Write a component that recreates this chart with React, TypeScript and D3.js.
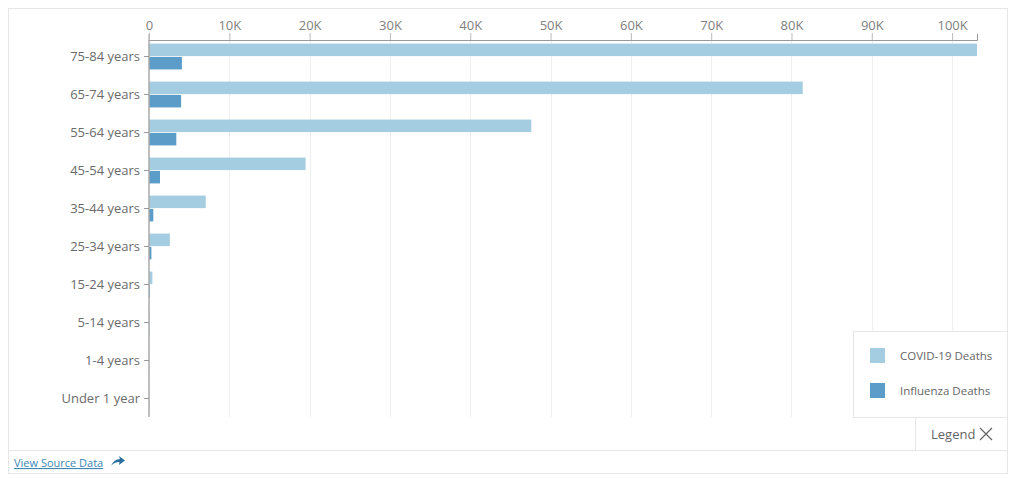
import React, { useEffect, useRef } from 'react';
import * as d3 from 'd3';

const ageGroups = [
  '75-84 years', '65-74 years', '55-64 years', '45-54 years', '35-44 years',
  '25-34 years', '15-24 years', '5-14 years', '1-4 years', 'Under 1 year',
];
const covidDeaths = [103100, 81400, 47600, 19500, 7060, 2600, 420, 50, 30, 30];
const fluDeaths = [4100, 4000, 3400, 1370, 540, 300, 110, 40, 20, 20];
const seriesNames = ['COVID-19 Deaths', 'Influenza Deaths'];
const seriesColors = ['#a5cde1', '#5b9cc9'];
const xTicks = [0, 10000, 20000, 30000, 40000, 50000, 60000, 70000, 80000, 90000, 100000];

const App = () => {
  const svgRef = useRef<SVGSVGElement>(null);

  useEffect(() => {
    const svg = d3.select(svgRef.current);
    svg.selectAll('*').remove();

    const font = '"Open Sans", sans-serif';
    const left = 149, right = 977, top = 40, bottom = 417;

    // frame
    svg.append('rect').attr('x', 8.5).attr('y', 8.5).attr('width', 999).attr('height', 465)
      .attr('fill', '#fff').attr('stroke', '#e6e6e6');
    svg.append('line').attr('x1', 8).attr('x2', 1008).attr('y1', 450.5).attr('y2', 450.5)
      .attr('stroke', '#e6e6e6');

    const x = d3.scaleLinear().domain([0, d3.max(covidDeaths) as number]).range([left, right]);
    const y = d3.scaleBand().domain(ageGroups).range([37.5, 417.5]).paddingInner(0.32).paddingOuter(0.16);
    const inner = d3.scaleBand().domain(seriesNames).range([0, y.bandwidth()]).paddingInner(0.06);

    // gridlines
    svg.append('g').selectAll('line').data(xTicks.slice(1)).join('line')
      .attr('x1', d => Math.round(x(d)) + 0.5).attr('x2', d => Math.round(x(d)) + 0.5)
      .attr('y1', top).attr('y2', bottom)
      .attr('stroke', '#efefef');

    // bars
    const rows = ageGroups.map((g, i) => ({ g, vals: [covidDeaths[i], fluDeaths[i]] }));
    const groups = svg.append('g').selectAll('g').data(rows).join('g')
      .attr('transform', d => `translate(0,${y(d.g)})`);
    groups.selectAll('rect').data(d => d.vals.map((v, j) => ({ v, j }))).join('rect')
      .attr('x', x(0))
      .attr('y', d => inner(seriesNames[d.j]) as number)
      .attr('width', d => x(d.v) - x(0))
      .attr('height', inner.bandwidth())
      .attr('fill', d => seriesColors[d.j]);

    // top axis
    const xAxis = svg.append('g').attr('transform', `translate(0,${top})`)
      .call(d3.axisTop(x).tickValues(xTicks).tickSize(7).tickPadding(3)
        .tickFormat(d => (+d === 0 ? '0' : `${+d / 1000}K`)));
    xAxis.select('.domain').attr('stroke', '#999').attr('d', `M${left},-6V0.5H${right + 0.5}V-6`);
    xAxis.selectAll('.tick line').attr('stroke', '#bbb');
    xAxis.selectAll('text').attr('fill', '#808080').attr('font-size', 13).attr('font-family', font);

    // left axis
    const yAxis = svg.append('g').attr('transform', `translate(${left},0)`)
      .call(d3.axisLeft(y).tickSize(5).tickPadding(4));
    yAxis.select('.domain').attr('stroke', '#aaa').attr('stroke-width', 1.5)
      .attr('d', `M0,${top}V${bottom}`);
    yAxis.selectAll('.tick line').attr('stroke', '#999');
    yAxis.selectAll('text').attr('fill', '#6b6b6b').attr('font-size', 13).attr('font-family', font);

    // legend
    const lg = svg.append('g');
    lg.append('rect').attr('x', 853.5).attr('y', 331.5).attr('width', 154).attr('height', 86)
      .attr('fill', '#fff').attr('stroke', '#e6e6e6');
    seriesNames.forEach((n, i) => {
      const yy = 348 + i * 35;
      lg.append('rect').attr('x', 870).attr('y', yy).attr('width', 15).attr('height', 15)
        .attr('fill', seriesColors[i]);
      lg.append('text').attr('x', 900).attr('y', yy + 12).text(n)
        .attr('font-size', 11.5).attr('fill', '#666').attr('font-family', font);
    });
    lg.append('rect').attr('x', 915.5).attr('y', 417.5).attr('width', 92).attr('height', 33)
      .attr('fill', '#fff').attr('stroke', '#e6e6e6');
    lg.append('text').attr('x', 931).attr('y', 439).text('Legend')
      .attr('font-size', 13).attr('fill', '#666').attr('font-family', font);
    lg.append('path').attr('d', 'M980,428L992,440M992,428L980,440')
      .attr('stroke', '#666').attr('stroke-width', 1.3);

    // source link
    svg.append('text').attr('x', 14).attr('y', 467).text('View Source Data')
      .attr('font-size', 11).attr('fill', '#3d87b5').attr('text-decoration', 'underline')
      .attr('font-family', font);
    svg.append('path').attr('d', 'M111,466 Q114,459 120,459 L119,456 L125,460.5 L119,465 L119.5,462 Q114,462 111,466Z')
      .attr('fill', '#2a6f9e');
  }, []);

  return (
    <svg ref={svgRef} width={1024} height={478}
      style={{ position: 'absolute', left: 0, top: 0, background: '#fff' }} />
  );
};

export default App;
